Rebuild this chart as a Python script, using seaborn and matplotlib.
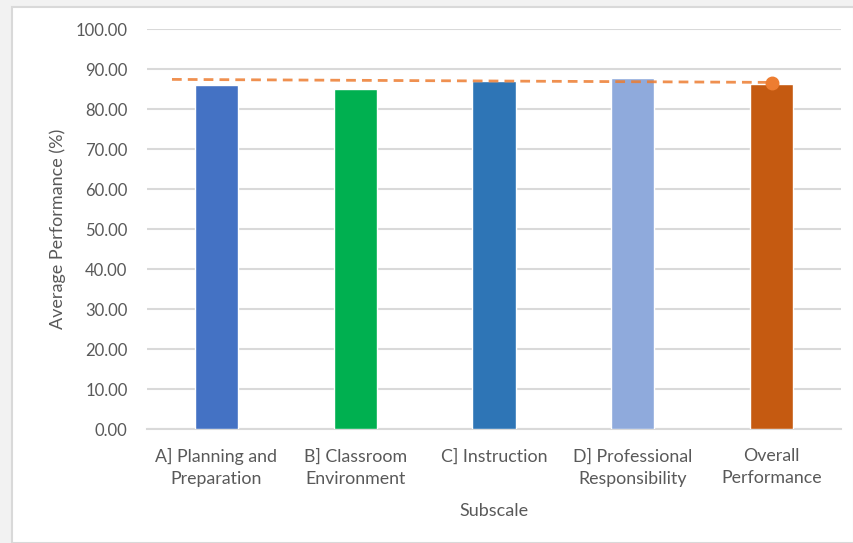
import matplotlib
matplotlib.use("Agg")
import matplotlib.pyplot as plt
from matplotlib.patches import Rectangle
import seaborn as sns
import pandas as pd

# Average performance per subscale
subscales = ["A] Planning and\nPreparation", "B] Classroom\nEnvironment",
             "C] Instruction", "D] Professional\nResponsibility",
             "Overall\nPerformance"]
scores = [86.0, 85.0, 87.0, 87.7, 86.3]
bar_colors = ["#4472C4", "#00B050", "#2E75B6", "#8FAADC", "#C55A11"]

# Trend line endpoints (category position, value) and overall marker
trend_x = [-0.32, 4.0]
trend_y = [87.4, 86.65]
marker_x = [4]
marker_y = [86.6]

sns.set_theme(style="white")
plt.rcParams["font.family"] = ["Lato", "DejaVu Sans"]
text_color = "#595959"
grid_color = "#D9D9D9"

fig = plt.figure(figsize=(8.54, 5.43), dpi=100, facecolor="#F2F2F2")
W, H = 854, 543
# white chart panel with thin grey frame
fig.patches.append(Rectangle((12 / W, 0), 1 - 12 / W, 1 - 7 / H,
                             transform=fig.transFigure, facecolor="white",
                             edgecolor=grid_color, linewidth=1.5, zorder=-10))

ax = fig.add_axes([147 / W, (H - 429) / H, (841 - 147) / W, (429 - 29) / H])
ax.set_facecolor("none")

df = pd.DataFrame({"Subscale": subscales, "Score": scores})
sns.barplot(data=df, x="Subscale", y="Score", hue="Subscale",
            palette=bar_colors, width=0.31, legend=False, ax=ax,
            saturation=1, zorder=3)

ax.plot(trend_x, trend_y, linestyle=(0, (3.5, 2.2)), color="#ED7D31",
        linewidth=2, alpha=0.85, zorder=4)
ax.plot(marker_x, marker_y, "o", color="#ED7D31", markersize=9, zorder=5)

ax.set_ylim(0, 100)
ax.set_xlim(-0.5, 4.5)
ax.set_yticks(range(0, 101, 10))
ax.set_yticklabels([f"{v:.2f}" for v in range(0, 101, 10)])
ax.yaxis.grid(True, color=grid_color, linewidth=1.5, zorder=0)
ax.set_axisbelow(True)

for s in ["top", "right", "left"]:
    ax.spines[s].set_visible(False)
ax.spines["bottom"].set_color(grid_color)
ax.spines["bottom"].set_linewidth(1.5)
ax.spines["bottom"].set_zorder(2)

ax.tick_params(axis="x", length=0, labelsize=12.8, colors=text_color, pad=14)
ax.tick_params(axis="y", length=0, labelsize=12, colors=text_color, pad=14)
for lbl in ax.get_xticklabels():
    lbl.set_linespacing(1.45)

ax.set_xlabel("Subscale", fontsize=13, color=text_color, labelpad=11)
ax.set_ylabel("Average Performance (%)", fontsize=13, color=text_color, labelpad=7)

fig.savefig("out.png", dpi=100, facecolor=fig.get_facecolor())
